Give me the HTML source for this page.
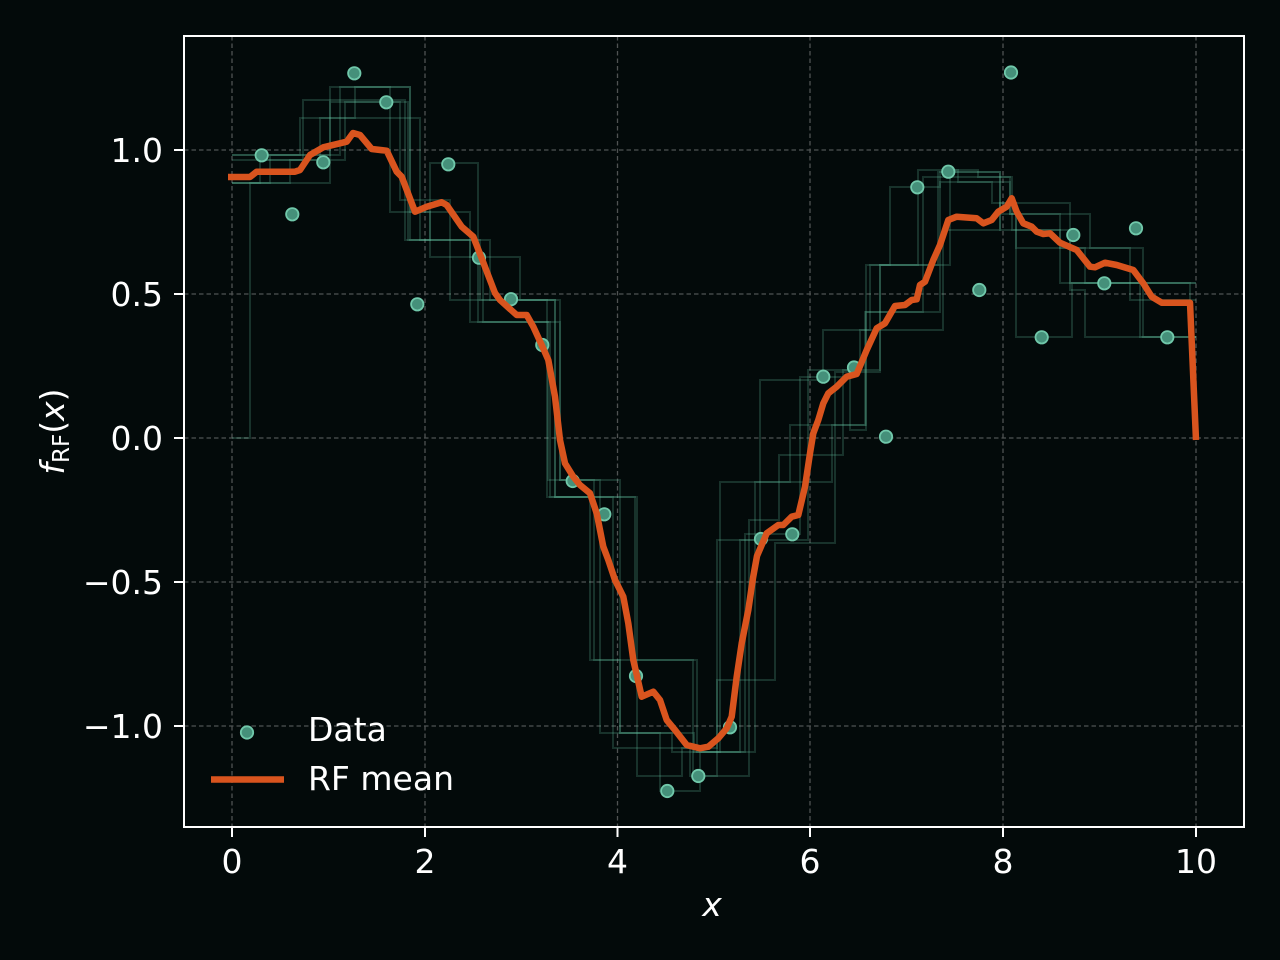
<!DOCTYPE html>
<html>
<head>
<meta charset="utf-8">
<style>
  html, body { margin:0; padding:0; background:#030a0a; }
  svg { display:block; }
  text { font-family: "DejaVu Sans", "Liberation Sans", sans-serif; fill:#ffffff; }
</style>
</head>
<body>
<svg width="1280" height="960" viewBox="0 0 1280 960" xmlns="http://www.w3.org/2000/svg">
  <rect x="0" y="0" width="1280" height="960" fill="#030a0a"/>

  <!-- grid -->
  <g stroke="#4f5353" stroke-width="1.3" stroke-dasharray="4.5 3" fill="none">
    <line x1="232" y1="36" x2="232" y2="827"/>
    <line x1="425" y1="36" x2="425" y2="827"/>
    <line x1="617.5" y1="36" x2="617.5" y2="827"/>
    <line x1="810" y1="36" x2="810" y2="827"/>
    <line x1="1003" y1="36" x2="1003" y2="827"/>
    <line x1="1196" y1="36" x2="1196" y2="827"/>
    <line x1="184" y1="150" x2="1244" y2="150"/>
    <line x1="184" y1="294" x2="1244" y2="294"/>
    <line x1="184" y1="438" x2="1244" y2="438"/>
    <line x1="184" y1="582" x2="1244" y2="582"/>
    <line x1="184" y1="726" x2="1244" y2="726"/>
  </g>

  <!-- individual trees -->
  <g stroke="#66c2a5" stroke-opacity="0.22" stroke-width="2" fill="none" stroke-linejoin="miter">
    <path d="M232,155 H300 V118 H355 V87 H410 V240 H480 V300 H555 V497 H635 V660 H693 V776 H717 V680 H775 V543 H835 V372 H880 V265 H950 V170 H978 V177 H1012 V230 H1070 V283 H1196"/>
    <path d="M232,438 H250 V183 H330 V102 H408 V240 H430 V163 H478 V322 H560 V480 H600 V733 H694 V752 H755 V482 H832 V425 H866 V312 H940 V182 H1010 V214 H1090 V248 H1143 V337 H1196"/>
    <path d="M232,183 H260 V160 H303 V100 H405 V240 H490 V300 H547 V497 H613 V748 H690 V776 H749 V520 H779 V455 H843 V370 H860 V330 H943 V230 H1000 V203 H1016 V337 H1072 V283 H1190 V337 H1196"/>
    <path d="M232,155 H330 V87 H390 V212 H470 V322 H548 V480 H594 V660 H697 V752 H740 V540 H808 V370 H880 V265 H918 V170 H958 V182 H992 V203 H1070 V290 H1085 V337 H1196"/>
    <path d="M232,183 H290 V160 H345 V102 H400 V200 H450 V300 H555 V497 H590 V660 H620 V733 H672 V752 H720 V482 H790 V425 H865 V312 H923 V177 H1010 V214 H1016 V248 H1085 V283 H1196"/>
    <path d="M232,160 H320 V118 H340 V87 H410 V212 H430 V257 H483 V322 H550 V497 H637 V776 H682 V748 H717 V540 H760 V380 H823 V330 H870 V265 H938 V172 H1000 V214 H1060 V248 H1130 V300 H1196"/>
    <path d="M232,183 H270 V155 H340 V118 H420 V240 H470 V257 H520 V300 H560 V480 H620 V733 H660 V791 H700 V752 H745 V534 H800 V377 H850 V430 H866 V265 H890 V187 H940 V172 H1000 V230 H1060 V283 H1140 V337 H1196"/>
  </g>

  <!-- data points -->
  <g fill="#45907a" stroke="#70c8aa" stroke-width="1.8">
    <circle cx="261.7" cy="155.3" r="6.2"/>
    <circle cx="292.3" cy="214.3" r="6.2"/>
    <circle cx="323.3" cy="162.3" r="6.2"/>
    <circle cx="354.3" cy="73.3" r="6.2"/>
    <circle cx="386.3" cy="102.3" r="6.2"/>
    <circle cx="417.3" cy="304.3" r="6.2"/>
    <circle cx="448.3" cy="164.3" r="6.2"/>
    <circle cx="479" cy="257.7" r="6.2"/>
    <circle cx="511" cy="299.2" r="6.2"/>
    <circle cx="542.3" cy="345" r="6.2"/>
    <circle cx="572.7" cy="481" r="6.2"/>
    <circle cx="604.3" cy="514.3" r="6.2"/>
    <circle cx="636" cy="676" r="6.2"/>
    <circle cx="667.3" cy="791" r="6.2"/>
    <circle cx="698.3" cy="776" r="6.2"/>
    <circle cx="730" cy="727.3" r="6.2"/>
    <circle cx="761" cy="539" r="6.2"/>
    <circle cx="792.3" cy="534.3" r="6.2"/>
    <circle cx="823.3" cy="376.7" r="6.2"/>
    <circle cx="854" cy="367.5" r="6.2"/>
    <circle cx="886" cy="436.7" r="6.2"/>
    <circle cx="917.3" cy="187.3" r="6.2"/>
    <circle cx="948.3" cy="171.7" r="6.2"/>
    <circle cx="979.3" cy="290" r="6.2"/>
    <circle cx="1011" cy="72.5" r="6.2"/>
    <circle cx="1041.7" cy="337.3" r="6.2"/>
    <circle cx="1073.3" cy="235" r="6.2"/>
    <circle cx="1104.3" cy="283.3" r="6.2"/>
    <circle cx="1136" cy="228.3" r="6.2"/>
    <circle cx="1167.3" cy="337.3" r="6.2"/>
  </g>

  <!-- RF mean -->
  <polyline fill="none" stroke="#d9541e" stroke-width="6.5" stroke-linejoin="round" stroke-linecap="butt"
    points="228,177 250,177 256.7,171.7 295,171.7 300,170 310,155 323.3,147.3 346.7,141.7 353,133 360,135 371.7,149 386.7,150.7 396.7,171.7 401.7,176.7 415,211.7 426.7,206.7 441.7,202.3 446.7,205 461.7,226.7 473.3,236.7 481.7,258.3 490,280 495,293 500,300 516.7,315 526.7,315 533.3,326.7 541.7,345 548.3,360 555,396.7 560,440 565,463.3 573.3,476.7 580,485 590,493.3 596.7,513.3 603.3,546.7 608.3,560 615,580 623.3,596.7 628.3,623.3 633.3,660 641.7,696.7 653.3,691.7 660,700 666.7,720 675,730 686.7,745 700,748.3 708.3,746.7 718.3,738.3 726.7,728.3 731.7,716.7 736.7,676.7 741.7,643.3 748.3,610 753,578 757,556 766.7,533.3 778.3,525 783.3,525 791.7,516.7 798.3,515 805,486.7 810,453.3 813.3,433.3 818.3,420 823.3,403.3 828.3,393.3 836.7,386.7 846.7,376.7 856.7,374 866.7,350 876.7,328.3 885,323.3 895,306 905,305 911.7,300 916.7,299.3 920,285 925,281.7 933.3,260 940,245 948.3,220 956.7,216.7 976.7,218.3 983.3,223.3 991.7,220 998.3,211.7 1006.7,206.7 1011.7,198.3 1016.7,211.7 1023.3,223.3 1031.7,226.7 1036.7,231.7 1043.3,234 1050,233.3 1060,242.7 1076.7,250 1090,266.7 1095,267.3 1105,262.7 1116.7,265 1133.3,270 1143.3,283.3 1151.7,296.7 1161.7,302.7 1190,302.7 1196,440"/>

  <!-- axes frame -->
  <rect x="184" y="36" width="1060" height="791" fill="none" stroke="#ffffff" stroke-width="2"/>

  <!-- ticks -->
  <g stroke="#ffffff" stroke-width="2">
    <line x1="232" y1="827" x2="232" y2="837"/>
    <line x1="425" y1="827" x2="425" y2="837"/>
    <line x1="617.5" y1="827" x2="617.5" y2="837"/>
    <line x1="810" y1="827" x2="810" y2="837"/>
    <line x1="1003" y1="827" x2="1003" y2="837"/>
    <line x1="1196" y1="827" x2="1196" y2="837"/>
    <line x1="174" y1="150" x2="184" y2="150"/>
    <line x1="174" y1="294" x2="184" y2="294"/>
    <line x1="174" y1="438" x2="184" y2="438"/>
    <line x1="174" y1="582" x2="184" y2="582"/>
    <line x1="174" y1="726" x2="184" y2="726"/>
  </g>

  <!-- tick labels -->
  <g font-size="33" text-anchor="middle">
    <text x="232" y="873">0</text>
    <text x="425" y="873">2</text>
    <text x="617.5" y="873">4</text>
    <text x="810" y="873">6</text>
    <text x="1003" y="873">8</text>
    <text x="1196" y="873">10</text>
  </g>
  <g font-size="33" text-anchor="end">
    <text x="163" y="162">1.0</text>
    <text x="163" y="306">0.5</text>
    <text x="163" y="450">0.0</text>
    <text x="163" y="594">−0.5</text>
    <text x="163" y="738">−1.0</text>
  </g>

  <!-- axis labels -->
  <text x="712" y="916" font-size="33" font-style="italic" text-anchor="middle">x</text>
  <g transform="translate(64,431.5) rotate(-90)">
    <text x="0" y="0" font-size="33" text-anchor="middle"><tspan font-style="italic">f</tspan><tspan font-size="23" dy="5">RF</tspan><tspan dy="-5">(</tspan><tspan font-style="italic">x</tspan><tspan>)</tspan></text>
  </g>

  <!-- legend -->
  <circle cx="247" cy="732.5" r="6.2" fill="#45907a" stroke="#70c8aa" stroke-width="1.8"/>
  <text x="308" y="741" font-size="33">Data</text>
  <line x1="211" y1="779.5" x2="284" y2="779.5" stroke="#d9541e" stroke-width="6.5"/>
  <text x="308" y="790" font-size="33">RF mean</text>
</svg>
</body>
</html>
